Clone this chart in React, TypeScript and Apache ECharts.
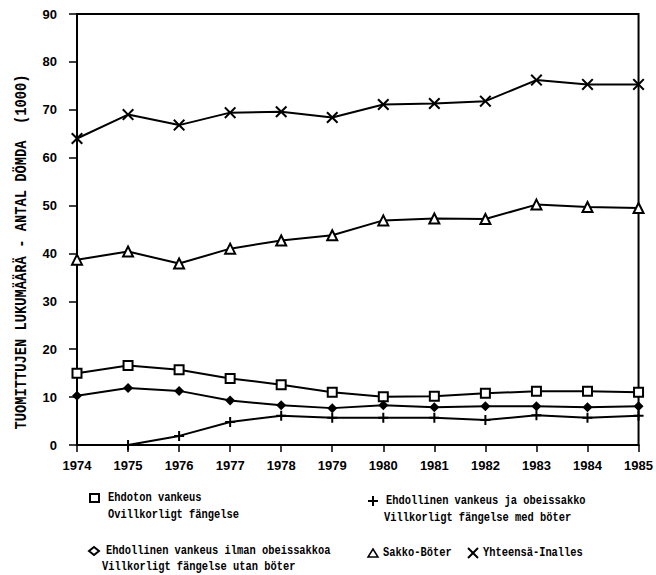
import React, { useEffect, useRef } from "react";
import * as echarts from "echarts";

const years = ["1974","1975","1976","1977","1978","1979","1980","1981","1982","1983","1984","1985"];
const ehdoton = [15.0, 16.6, 15.7, 13.9, 12.6, 11.0, 10.1, 10.2, 10.8, 11.2, 11.2, 11.0];
const ehdollinenIlman = [10.3, 11.9, 11.3, 9.3, 8.3, 7.7, 8.3, 7.9, 8.1, 8.1, 7.9, 8.1];
const ehdollinenJa = [null, 0, 1.9, 4.8, 6.1, 5.7, 5.7, 5.7, 5.2, 6.2, 5.7, 6.1];
const sakko = [38.7, 40.4, 37.9, 41.0, 42.7, 43.8, 46.9, 47.3, 47.2, 50.2, 49.7, 49.5];
const yhteensa = [64.0, 69.0, 66.8, 69.4, 69.6, 68.4, 71.1, 71.3, 71.8, 76.2, 75.3, 75.3];
const yTicks = { min: 0, max: 90, interval: 10 };
const yTitle = "TUOMITTUJEN LUKUMÄÄRÄ - ANTAL DÖMDA  (1000)";

const PLUS = "path://M4,0H6V4H10V6H6V10H4V6H0V4H4Z";
const CROSS = "path://M1.2,0L5,3.8L8.8,0L10,1.2L6.2,5L10,8.8L8.8,10L5,6.2L1.2,10L0,8.8L3.8,5L0,1.2Z";

const legFont = "bold 13px 'Liberation Mono', monospace";

function legText(text: string, x: number, y: number) {
  return {
    type: "text",
    x,
    y,
    scaleX: 0.8,
    style: { text, font: legFont, fill: "#000", textVerticalAlign: "middle" },
  };
}

export default function App() {
  const ref = useRef<HTMLDivElement>(null);
  useEffect(() => {
    if (!ref.current) return;
    const chart = echarts.init(ref.current, null, { renderer: "svg" });
    const lineStyle = { color: "#000", width: 2 };
    const mk = (name: string, data: any[], symbol: string, size: number, open: boolean) => ({
      name,
      type: "line",
      data,
      symbol,
      symbolSize: size,
      showAllSymbol: true,
      connectNulls: false,
      lineStyle,
      itemStyle: open
        ? { color: "#fff", borderColor: "#000", borderWidth: 2 }
        : { color: "#000", borderColor: "#000", borderWidth: 0 },
      z: 3,
    });
    chart.setOption({
      animation: false,
      backgroundColor: "#fff",
      grid: {
        left: 77,
        right: 16,
        top: 14,
        bottom: 130,
        show: true,
        borderColor: "#000",
        borderWidth: 2,
        backgroundColor: "transparent",
      },
      xAxis: {
        type: "category",
        data: years,
        boundaryGap: false,
        axisLine: { lineStyle: { color: "#000", width: 2 } },
        axisTick: { show: true, length: 7, lineStyle: { color: "#000", width: 1.5 } },
        axisLabel: {
          color: "#000",
          fontFamily: "'Liberation Sans', Arial, sans-serif",
          fontWeight: "bold",
          fontSize: 13,
          margin: 14,
          interval: 0,
        },
        splitLine: { show: false },
      },
      yAxis: {
        type: "value",
        min: yTicks.min,
        max: yTicks.max,
        interval: yTicks.interval,
        axisLine: { show: true, lineStyle: { color: "#000", width: 2 } },
        axisTick: { show: true, length: 8, lineStyle: { color: "#000", width: 1.5 } },
        axisLabel: {
          color: "#000",
          fontFamily: "'Liberation Sans', Arial, sans-serif",
          fontWeight: "bold",
          fontSize: 13,
          margin: 20,
        },
        splitLine: { show: false },
      },
      series: [
        mk("Ehdoton vankeus", ehdoton, "rect", 9, true),
        mk("Ehdollinen vankeus ilman obeissakkoa", ehdollinenIlman, "diamond", 10, false),
        mk("Ehdollinen vankeus ja obeissakko", ehdollinenJa, PLUS, 10, false),
        mk("Sakko-Böter", sakko, "triangle", 10, true),
        mk("Yhteensä-Inalles", yhteensa, CROSS, 12, false),
      ],
      graphic: [
        {
          type: "text",
          x: 22,
          y: 252,
          rotation: Math.PI / 2,
          scaleX: 0.81,
          style: {
            text: yTitle,
            font: "bold 17px 'Liberation Mono', monospace",
            fill: "#000",
            textAlign: "center",
            textVerticalAlign: "middle",
          },
        },
        // legend left column
        { type: "rect", shape: { x: 90, y: 494, width: 9, height: 8 }, style: { fill: "#fff", stroke: "#000", lineWidth: 2 } },
        legText("Ehdoton vankeus", 108, 498),
        legText("Ovillkorligt fängelse", 108, 515),
        { type: "polygon", shape: { points: [[94, 547], [99, 551], [94, 555], [89, 551]] }, style: { fill: "#fff", stroke: "#000", lineWidth: 2 } },
        legText("Ehdollinen vankeus ilman obeissakkoa", 106, 551),
        legText("Villkorligt fängelse utan böter", 102, 567),
        // legend right column
        { type: "line", shape: { x1: 368, y1: 501, x2: 378, y2: 501 }, style: { stroke: "#000", lineWidth: 2 } },
        { type: "line", shape: { x1: 373, y1: 496, x2: 373, y2: 506 }, style: { stroke: "#000", lineWidth: 2 } },
        legText("Ehdollinen vankeus ja obeissakko", 386, 501),
        legText("Villkorligt fängelse med böter", 384, 518),
        { type: "polygon", shape: { points: [[373, 549], [378, 557], [368, 557]] }, style: { fill: "#fff", stroke: "#000", lineWidth: 1.5 } },
        legText("Sakko-Böter", 383, 553),
        { type: "line", shape: { x1: 468, y1: 548, x2: 478, y2: 558 }, style: { stroke: "#000", lineWidth: 2 } },
        { type: "line", shape: { x1: 478, y1: 548, x2: 468, y2: 558 }, style: { stroke: "#000", lineWidth: 2 } },
        legText("Yhteensä-Inalles", 483, 553),
      ],
    });
    return () => chart.dispose();
  }, []);
  return (
    <div
      ref={ref}
      style={{ position: "fixed", left: 0, top: 0, width: 656, height: 575, background: "#fff" }}
    />
  );
}
